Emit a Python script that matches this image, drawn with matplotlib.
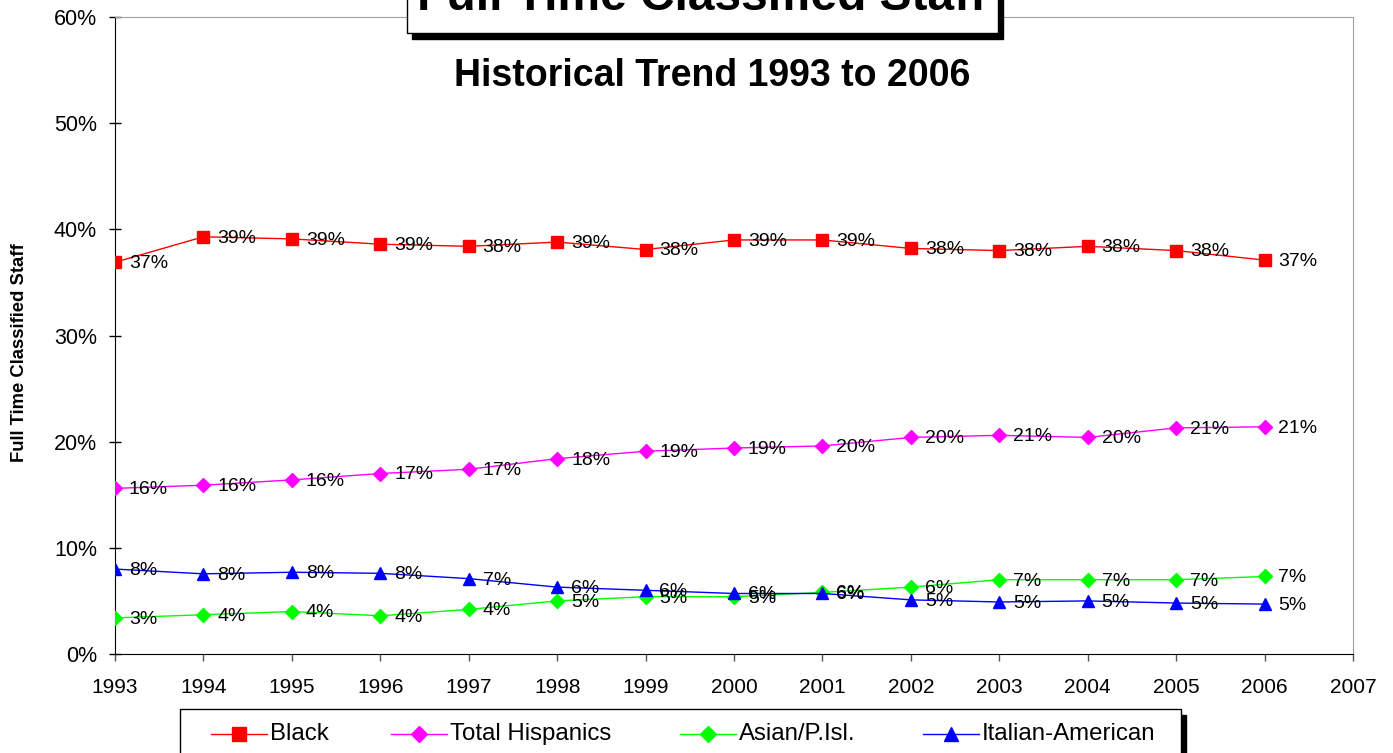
import numpy as np
import matplotlib
matplotlib.use("Agg")
import matplotlib.pyplot as plt
from matplotlib.patches import Rectangle
from matplotlib.lines import Line2D

plt.rcParams['font.family'] = ['Liberation Sans', 'DejaVu Sans']

# data (percent of full time classified staff)
years = list(range(1993, 2007))
black = [36.9, 39.3, 39.1, 38.6, 38.4, 38.8, 38.1, 39.0, 39.0, 38.2, 38.0, 38.4, 38.0, 37.1]
hispanics = [15.6, 15.9, 16.4, 17.0, 17.4, 18.4, 19.1, 19.4, 19.6, 20.4, 20.6, 20.4, 21.3, 21.4]
asian = [3.4, 3.7, 4.0, 3.6, 4.2, 5.0, 5.4, 5.4, 5.8, 6.3, 7.0, 7.0, 7.0, 7.3]
italian = [8.0, 7.55, 7.7, 7.6, 7.1, 6.3, 6.0, 5.7, 5.7, 5.1, 4.9, 5.0, 4.8, 4.7]

series_names = ["Black", "Total Hispanics", "Asian/P.Isl.", "Italian-American"]
series_vals = [black, hispanics, asian, italian]
colors = ["#FF0000", "#FF00FF", "#00FF00", "#0000FF"]
markers = ["s", "D", "D", "^"]
msizes = [9, 7, 7, 9]

W, H = 1393, 753
fig = plt.figure(figsize=(W / 100, H / 100), dpi=100)
ax = fig.add_axes([115 / W, 1 - 654 / H, (1353 - 115) / W, (654 - 17) / H])

for name, vals, c, m, ms in zip(series_names, series_vals, colors, markers, msizes):
    ax.plot(years, vals, color=c, lw=1, marker=m, ms=ms, mec=c, mfc=c, label=name, zorder=3)
    for x, v in zip(years, vals):
        ax.annotate("%d%%" % int(v + 0.5), (x, v), xytext=(10, -1), textcoords="offset points",
                    ha="left", va="center", fontsize=14, color="black", zorder=4)

ax.set_xlim(1993, 2007)
ax.set_ylim(0, 60)
ax.set_xticks(range(1993, 2008))
ax.set_yticks(range(0, 61, 10))
ax.set_yticklabels(["%d%%" % t for t in range(0, 61, 10)])
ax.tick_params(axis="y", direction="inout", length=8, width=1, labelsize=15.5, pad=9)
ax.tick_params(axis="x", direction="out", length=5, width=1, labelsize=15, pad=12, color="#555555")
for s in ["top", "right"]:
    ax.spines[s].set_color("#A0A0A0")
ax.set_ylabel("Full Time Classified Staff", fontsize=13.3, fontweight="bold")
ax.yaxis.set_label_coords(-0.0705, 0.4725)

# title box with shadow (cut at the top)
fig.patches.append(Rectangle((412 / W, 1 - 39 / H), (998 - 407) / W, 60 / H,
                             transform=fig.transFigure, facecolor="black", edgecolor="black", zorder=5))
fig.patches.append(Rectangle((407 / W, 1 - 33 / H), (998 - 407) / W, 60 / H, transform=fig.transFigure,
                             facecolor="white", edgecolor="black", lw=1, zorder=6))
fig.text(702 / W, 1 - 10 / H, "Full Time Classified Staff", ha="center", va="baseline",
         fontsize=34.5, fontweight="bold", zorder=7)
fig.text(712 / W, 1 - 76 / H, "Historical Trend 1993 to 2006", ha="center", va="center",
         fontsize=27, fontweight="bold")

# legend box with shadow, entries placed by hand
fig.patches.append(Rectangle((185 / W, 0), (1186 - 185) / W, (753 - 715) / H,
                             transform=fig.transFigure, facecolor="black", edgecolor="black", zorder=1))
fig.patches.append(Rectangle((180 / W, -0.05), (1181 - 180) / W, 0.05 + (753 - 709) / H,
                             transform=fig.transFigure, facecolor="white", edgecolor="black", lw=1, zorder=2))
leg_x = [211, 391, 680, 923]
leg_y = 1 - 734 / H
for lx, name, c, m, ms in zip(leg_x, series_names, colors, markers, msizes):
    fig.add_artist(Line2D([lx / W, (lx + 56) / W], [leg_y, leg_y], transform=fig.transFigure,
                          color=c, lw=1, zorder=3))
    fig.add_artist(Line2D([(lx + 28) / W], [leg_y], transform=fig.transFigure, color=c,
                          marker=m, ms=ms + 1, mec=c, mfc=c, zorder=4))
    fig.text((lx + 59) / W, leg_y, name, ha="left", va="center", fontsize=17.3, zorder=4)

fig.savefig("out.png", dpi=100)
